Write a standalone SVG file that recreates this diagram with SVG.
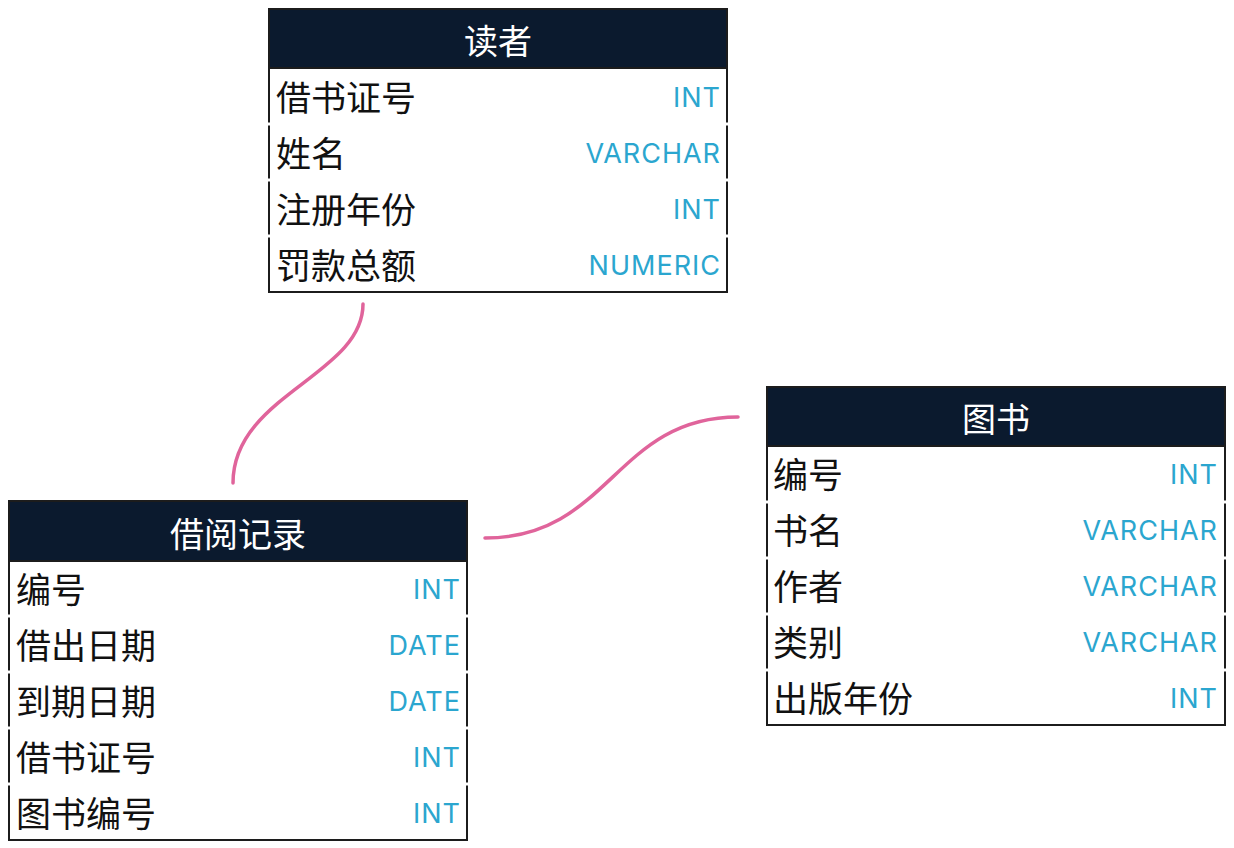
<svg xmlns="http://www.w3.org/2000/svg" width="1234" height="848" viewBox="0 0 1234 848">
  <style>
    .box { fill: #ffffff; stroke: #1c1c1c; stroke-width: 2; }
    .head { fill: #0b1a2e; stroke: #1c1c1c; stroke-width: 2; }
    .title { font-family: "Noto Sans CJK SC", "Noto Sans", sans-serif; font-size: 34px; fill: #ffffff; text-anchor: middle; dominant-baseline: central; }
    .name { font-family: "Noto Sans CJK SC", "Noto Sans", sans-serif; font-size: 35px; fill: #111111; dominant-baseline: central; }
    .type { font-family: Inter, "Open Sans", sans-serif; font-size: 27px; letter-spacing: 1px; fill: #2ba6cf; text-anchor: end; dominant-baseline: central; }
    .gap { stroke: #ffffff; stroke-width: 3; }
    .conn { fill: none; stroke: #e0649b; stroke-width: 3.5; stroke-linecap: round; }
  </style>

  <g id="connectors">
    <path class="conn" d="M 363 304 C 363 375, 233 395, 233 483"/>
    <path class="conn" d="M 485 538 C 610 538, 615 417, 738 417"/>
  </g>

  <g id="reader" transform="translate(269,9)">
    <rect class="box" x="0" y="0" width="458" height="283"/>
    <rect class="head" x="0" y="0" width="458" height="59"/>
    <text class="title" x="229" y="30">读者</text>
    <path class="gap" d="M -2 115 h 5 M 455 115 h 5 M -2 171 h 5 M 455 171 h 5 M -2 227 h 5 M 455 227 h 5"/>
    <text class="name" x="7" y="86">借书证号</text><text class="type" x="452" y="88">INT</text>
    <text class="name" x="7" y="142">姓名</text><text class="type" x="452" y="144">VARCHAR</text>
    <text class="name" x="7" y="198">注册年份</text><text class="type" x="452" y="200">INT</text>
    <text class="name" x="7" y="254">罚款总额</text><text class="type" x="452" y="256">NUMERIC</text>
  </g>

  <g id="borrow" transform="translate(9,501)">
    <rect class="box" x="0" y="0" width="458" height="339"/>
    <rect class="head" x="0" y="0" width="458" height="60"/>
    <text class="title" x="229" y="31">借阅记录</text>
    <path class="gap" d="M -2 115 h 5 M 455 115 h 5 M -2 171 h 5 M 455 171 h 5 M -2 227 h 5 M 455 227 h 5 M -2 283 h 5 M 455 283 h 5"/>
    <text class="name" x="7" y="86">编号</text><text class="type" x="452" y="88">INT</text>
    <text class="name" x="7" y="142">借出日期</text><text class="type" x="452" y="144">DATE</text>
    <text class="name" x="7" y="198">到期日期</text><text class="type" x="452" y="200">DATE</text>
    <text class="name" x="7" y="254">借书证号</text><text class="type" x="452" y="256">INT</text>
    <text class="name" x="7" y="310">图书编号</text><text class="type" x="452" y="312">INT</text>
  </g>

  <g id="book" transform="translate(767,387)">
    <rect class="box" x="0" y="0" width="458" height="338"/>
    <rect class="head" x="0" y="0" width="458" height="59"/>
    <text class="title" x="229" y="30">图书</text>
    <path class="gap" d="M -2 115 h 5 M 455 115 h 5 M -2 171 h 5 M 455 171 h 5 M -2 227 h 5 M 455 227 h 5 M -2 283 h 5 M 455 283 h 5"/>
    <text class="name" x="6" y="85">编号</text><text class="type" x="451" y="87">INT</text>
    <text class="name" x="6" y="141">书名</text><text class="type" x="451" y="143">VARCHAR</text>
    <text class="name" x="6" y="197">作者</text><text class="type" x="451" y="199">VARCHAR</text>
    <text class="name" x="6" y="253">类别</text><text class="type" x="451" y="255">VARCHAR</text>
    <text class="name" x="6" y="309">出版年份</text><text class="type" x="451" y="311">INT</text>
  </g>
</svg>
